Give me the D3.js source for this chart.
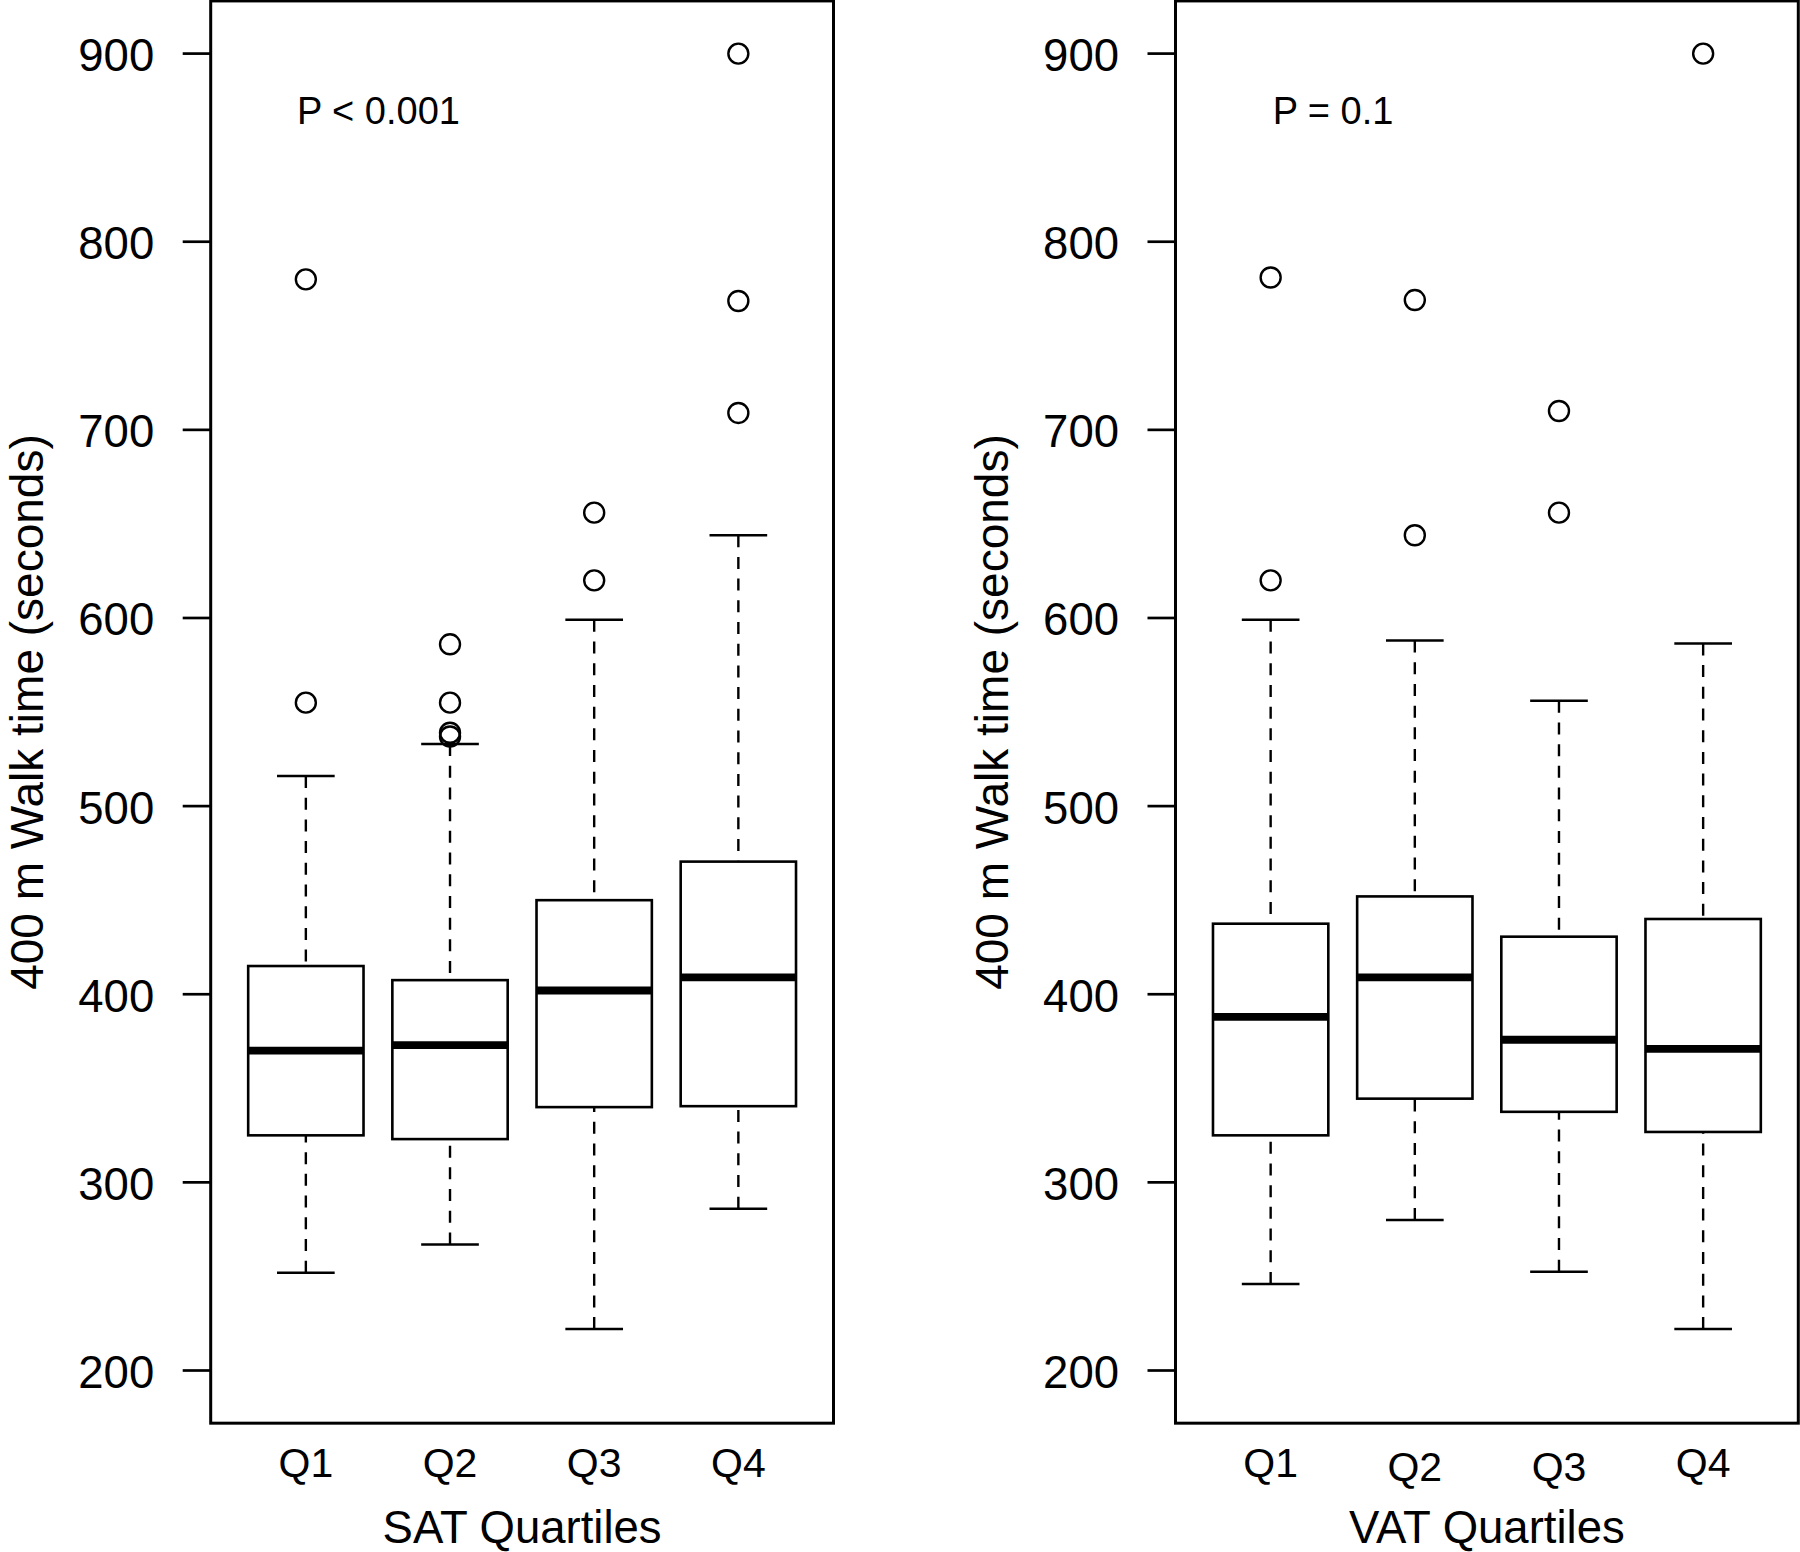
<!DOCTYPE html>
<html>
<head>
<meta charset="utf-8">
<script src="https://cdn.jsdelivr.net/npm/d3@7"></script>
<style>
  html, body { margin: 0; padding: 0; background: #fff; }
  svg { display: block; }
  text { font-family: "Liberation Sans", Arial, Helvetica, sans-serif; fill: #000; }
</style>
</head>
<body>
<svg id="chart" width="1800" height="1552"></svg>
<script>
// ---------- data ----------
const categories = ["Q1", "Q2", "Q3", "Q4"];
const yTicks = [200, 300, 400, 500, 600, 700, 800, 900];

const satLower  = [252, 267, 222, 286];
const satQ1     = [325, 323, 340, 340.5];
const satMedian = [370, 373, 402, 409];
const satQ3     = [415, 407.5, 450, 470.5];
const satUpper  = [516, 533, 599, 644];
const satOutliers = [[555, 780], [537, 539, 555, 586], [620, 656], [709, 768.5, 900]];

const vatLower  = [246, 280, 252.5, 222];
const vatQ1     = [325, 344.5, 337.5, 326.8];
const vatMedian = [388, 409, 375.8, 371];
const vatQ3     = [437.5, 452, 430.6, 440];
const vatUpper  = [599, 588, 556, 586.5];
const vatOutliers = [[620, 781], [644, 769], [656, 710], [900]];

const satTitle = "SAT Quartiles";
const vatTitle = "VAT Quartiles";
const yTitle = "400 m Walk time (seconds)";
const satP = "P < 0.001";
const vatP = "P = 0.1";

// ---------- layout ----------
const svg = d3.select("#chart");
const y = d3.scaleLinear().domain([200, 900]).range([1370.5, 53.6]);
const yDomainFull = [172, 928];

const panels = [
  { lower: satLower, q1: satQ1, med: satMedian, q3: satQ3, upper: satUpper, out: satOutliers,
    title: satTitle, p: satP, pUnit: 0.938, range: [210.7, 833.5], nudge: [0, 0, 0, 0] },
  { lower: vatLower, q1: vatQ1, med: vatMedian, q3: vatQ3, upper: vatUpper, out: vatOutliers,
    title: vatTitle, p: vatP, pUnit: 1.014, range: [1175.5, 1798.3], nudge: [0, 4, 4, 0] }
];

const blk = "#000";

panels.forEach(pn => {
  const x = d3.scaleLinear().domain([0.34, 4.66]).range(pn.range);
  const g = svg.append("g");
  const left = pn.range[0], right = pn.range[1];
  const top = y(yDomainFull[1]), bottom = y(yDomainFull[0]);
  const boxHalf = (x(1.4) - x(1));   // 0.4 units
  const capHalf = (x(1.2) - x(1));   // 0.2 units

  // y axis ticks & labels
  g.selectAll(".ytick").data(yTicks).join("line")
    .attr("x1", left - 28).attr("x2", left)
    .attr("y1", d => y(d)).attr("y2", d => y(d))
    .attr("stroke", blk).attr("stroke-width", 2.7);
  g.selectAll(".ylab").data(yTicks).join("text")
    .attr("x", left - 56.5).attr("y", d => y(d) + 17.5)
    .attr("text-anchor", "end").attr("font-size", 45.5)
    .text(d => d);

  // y title
  g.append("text")
    .attr("transform", `translate(${left - 168},${(top + bottom) / 2}) rotate(-90)`)
    .attr("text-anchor", "middle").attr("font-size", 46)
    .text(yTitle);

  categories.forEach((c, i) => {
    const cx = x(i + 1);
    // whiskers (dashed), drawn from extreme toward hinge
    g.append("line").attr("x1", cx).attr("x2", cx)
      .attr("y1", y(pn.lower[i])).attr("y2", y(pn.q1[i]))
      .attr("stroke", blk).attr("stroke-width", 2.4).attr("stroke-dasharray", "12 9.7");
    g.append("line").attr("x1", cx).attr("x2", cx)
      .attr("y1", y(pn.upper[i])).attr("y2", y(pn.q3[i]))
      .attr("stroke", blk).attr("stroke-width", 2.4).attr("stroke-dasharray", "12 9.7");
    // staples
    [pn.lower[i], pn.upper[i]].forEach(v => {
      g.append("line").attr("x1", cx - capHalf).attr("x2", cx + capHalf)
        .attr("y1", y(v)).attr("y2", y(v))
        .attr("stroke", blk).attr("stroke-width", 2.5);
    });
    // box
    g.append("rect")
      .attr("x", cx - boxHalf).attr("width", 2 * boxHalf)
      .attr("y", y(pn.q3[i])).attr("height", y(pn.q1[i]) - y(pn.q3[i]))
      .attr("fill", "none").attr("stroke", blk).attr("stroke-width", 2.6);
    // median
    g.append("line").attr("x1", cx - boxHalf).attr("x2", cx + boxHalf)
      .attr("y1", y(pn.med[i])).attr("y2", y(pn.med[i]))
      .attr("stroke", blk).attr("stroke-width", 7.8);
    // outliers
    g.selectAll(null).data(pn.out[i]).join("circle")
      .attr("cx", cx).attr("cy", d => y(d)).attr("r", 10)
      .attr("fill", "none").attr("stroke", blk).attr("stroke-width", 2.4);
    // category label
    g.append("text").attr("x", cx).attr("y", bottom + 53.5 + pn.nudge[i])
      .attr("text-anchor", "middle").attr("font-size", 41).text(c);
  });

  // frame
  g.append("rect").attr("x", left).attr("y", top)
    .attr("width", right - left).attr("height", bottom - top)
    .attr("fill", "none").attr("stroke", blk).attr("stroke-width", 3);

  // x title
  g.append("text").attr("x", (left + right) / 2).attr("y", 1543)
    .attr("text-anchor", "middle").attr("font-size", 45.5).text(pn.title);

  // p annotation
  g.append("text").attr("x", x(pn.pUnit)).attr("y", 124)
    .attr("font-size", 38).text(pn.p);
});
</script>
</body>
</html>
